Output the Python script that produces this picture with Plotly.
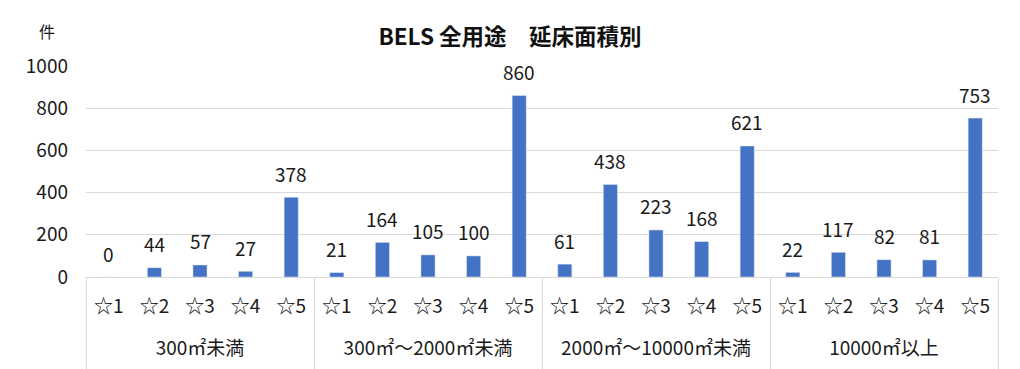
import plotly.graph_objects as go

groups = ["300㎡未満", "300㎡～2000㎡未満", "2000㎡～10000㎡未満", "10000㎡以上"]
stars = ["☆1", "☆2", "☆3", "☆4", "☆5"]
values = [
    [0, 44, 57, 27, 378],
    [21, 164, 105, 100, 860],
    [61, 438, 223, 168, 621],
    [22, 117, 82, 81, 753],
]
yticks = [0, 200, 400, 600, 800, 1000]

xg, xs, ys = [], [], []
for g, vals in zip(groups, values):
    for s, v in zip(stars, vals):
        xg.append(g + "<br>\u3000")
        xs.append(s + "<br>\u3000")
        ys.append(v)

font = "Noto Sans CJK JP"
txt = "#1a1a1a"

fig = go.Figure(go.Bar(x=[xg, xs], y=ys, marker_color="#4472C4", width=0.31))

for i, v in enumerate(ys):
    fig.add_annotation(x=i, y=v, xref="x", yref="y", text=str(v), showarrow=False,
                       yanchor="middle", yshift=24, font=dict(family=font, size=19, color=txt))

fig.add_annotation(text="件", xref="paper", yref="paper", x=-0.043, y=1.166, xanchor="center",
                   yanchor="middle", showarrow=False, font=dict(family=font, size=16, color=txt))

fig.update_layout(
    width=1020, height=369,
    margin=dict(l=86, r=22, t=66, b=92),
    paper_bgcolor="white", plot_bgcolor="white",
    title=dict(text="<b>BELS 全用途　延床面積別</b>", x=0.5, xref="container", xanchor="center",
               y=0.9, yref="container", yanchor="middle", font=dict(family=font, size=22.5, color="#111111")),
    showlegend=False,
    font=dict(family=font, size=18, color=txt),
)
fig.update_xaxes(type="multicategory", showline=True, linecolor="#D9D9D9", linewidth=1,
                 showdividers=True, dividercolor="#D9D9D9", dividerwidth=1, ticklabelstandoff=12,
                 automargin=False,
                 tickfont=dict(family=font, size=19, color=txt), showgrid=False)
fig.update_yaxes(range=[0, 1000], tickvals=yticks, showgrid=True, gridcolor="#D9D9D9", gridwidth=1,
                 zeroline=False, showline=False, ticklabelstandoff=17, automargin=False,
                 tickfont=dict(family=font, size=19, color=txt))

fig.write_html("out.html")
